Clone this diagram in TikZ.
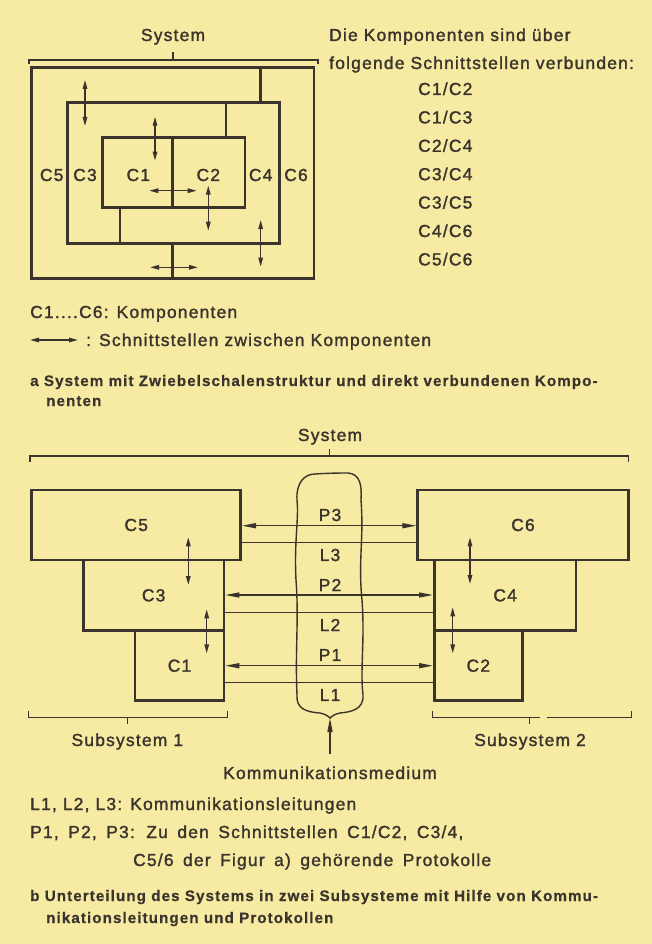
\documentclass[tikz,border=0pt]{standalone}
\usepackage{fontspec}
\setmainfont{Liberation Sans}[LetterSpace=7,UprightFeatures={FakeBold=1.6},BoldFeatures={FakeBold=0.6}]
\usetikzlibrary{arrows.meta,calc}
\definecolor{paper}{RGB}{247,234,162}
\definecolor{ink}{RGB}{58,52,45}
\newcommand{\widesp}{\spaceskip=9.5pt\relax}
\begin{document}
\begin{tikzpicture}[x=1pt,y=-1pt,
  every node/.style={font=\fontsize{17.4}{20}\selectfont,text=ink,inner sep=0pt},
  capt/.style={font=\fontsize{15.2}{18}\selectfont\bfseries,anchor=base west},
  txt/.style={anchor=base west},
  shell/.style={draw=ink,line width=2.8pt},
  comp/.style={draw=ink,line width=2.6pt,rectangle,inner sep=0pt},
  thin/.style={draw=ink,line width=1.4pt},
  brk/.style={draw=ink,line width=1.3pt},
  iarr/.style={draw=ink,line width=1.4pt,{Triangle[length=9pt,width=4.5pt]}-{Triangle[length=9pt,width=4.5pt]}},
  parr/.style={draw=ink,line width=1.4pt,{Triangle[length=14pt,width=5pt]}-{Triangle[length=14pt,width=5pt]}},
  uarr/.style={draw=ink,line width=1.4pt,-{Triangle[length=14pt,width=5pt]}}
]
\fill[paper] (0,0) rectangle (652,944);
\useasboundingbox (0,0) rectangle (652,944);

% ---------------- Figure a ----------------
\node[anchor=base] (sysa) at (173,41) {System};
\coordinate (ba1) at (29,60); \coordinate (ba2) at (318,60);
\draw[brk] ($(ba1)+(0,4)$) -- (ba1) -- (ba2) -- ($(ba2)+(0,4)$);
\draw[brk] (173,60) -- (173,52);

\draw[shell] (31.7,67.3) rectangle (314,278.7);
\draw[shell] (67.3,102.7) rectangle (279.3,243.3);
\draw[shell] (102.3,137.7) rectangle (245,207.7);
\draw[shell] (172.7,137.7) -- (172.7,207.7);
\draw[shell] (260.7,67.3) -- (260.7,102.7);
\draw[shell] (226,102.7) -- (226,137.7);
\draw[shell] (120,207.7) -- (120,243.3);
\draw[shell] (172.7,243.3) -- (172.7,278.7);

\node[anchor=base] (a5) at (51.7,181) {C5};
\node[anchor=base] (a3) at (85,181) {C3};
\node[anchor=base] (a1) at (138.3,181) {C1};
\node[anchor=base] (a2) at (208.3,181) {C2};
\node[anchor=base] (a4) at (260.7,181) {C4};
\node[anchor=base] (a6) at (296,181) {C6};

\coordinate (i53a) at (85,80);     \coordinate (i53b) at (85,126);
\coordinate (i13a) at (155,116.7); \coordinate (i13b) at (155,160.7);
\coordinate (i12a) at (149.3,190.7); \coordinate (i12b) at (196.7,190.7);
\coordinate (i24a) at (208.3,185.7); \coordinate (i24b) at (208.3,230.7);
\coordinate (i46a) at (260.7,220); \coordinate (i46b) at (260.7,266.7);
\coordinate (i56a) at (150,267.3); \coordinate (i56b) at (198,267.3);
\draw[iarr] (i53a) -- (i53b);
\draw[iarr] (i13a) -- (i13b);
\draw[iarr] (i12a) -- (i12b);
\draw[iarr] (i24a) -- (i24b);
\draw[iarr] (i46a) -- (i46b);
\draw[iarr] (i56a) -- (i56b);

\node[txt] (t1) at (329,41) {Die Komponenten sind über};
\node[txt] (t2) at (329,69) {folgende Schnittstellen verbunden:};
\node[txt] (l1) at (418,95) {C1/C2};
\node[txt] (l2) at (418,123.4) {C1/C3};
\node[txt] (l3) at (418,151.8) {C2/C4};
\node[txt] (l4) at (418,180.2) {C3/C4};
\node[txt] (l5) at (418,208.6) {C3/C5};
\node[txt] (l6) at (418,237) {C4/C6};
\node[txt] (l7) at (418,265.4) {C5/C6};

\node[txt] (leg1) at (30,318) {C1....C6: Komponenten};
\coordinate (lga) at (30,340); \coordinate (lgb) at (78,340);
\draw[iarr] (lga) -- (lgb);
\node[txt] (leg2) at (86,346) {: Schnittstellen zwischen Komponenten};
\node[capt] (capa1) at (30,386) {a System mit Zwiebelschalenstruktur und direkt verbundenen Kompo-};
\node[capt] (capa2) at (46,406) {nenten};

% ---------------- Figure b ----------------
\node[anchor=base] (sysb) at (330,441) {System};
\coordinate (bb1) at (30,456); \coordinate (bb2) at (628.3,456);
\draw[brk] ($(bb1)+(0,6)$) -- (bb1) -- (bb2) -- ($(bb2)+(0,6)$);
\draw[brk] (329.3,456) -- (329.3,449);

% communication medium
\draw[ink,line width=1.4pt]
  (297,500) .. controls (296,482) and (305,474) .. (315,474)
  .. controls (330,473) and (342,473) .. (348,473)
  .. controls (360,474) and (362,485) .. (361,500)
  .. controls (364,540) and (358,560) .. (362,600)
  .. controls (365,640) and (360,670) .. (363,695)
  .. controls (364,710) and (350,712) .. (340,713)
  .. controls (335,714) and (332,716) .. (330,718)
  .. controls (328,716) and (325,714) .. (320,713)
  .. controls (305,712) and (296,708) .. (297,695)
  .. controls (295,650) and (299,620) .. (296,580)
  .. controls (294,540) and (299,520) .. (297,500) -- cycle;
\coordinate (medbot) at (330,718);

% components
\node[comp,minimum width=209pt,minimum height=70pt] (c5) at (136.2,525) {C5};
\node[comp,minimum width=140.7pt,minimum height=70.7pt] (c3) at (153.65,595.35) {C3};
\node[comp,minimum width=89pt,minimum height=70pt] (c1) at (179.5,665.7) {C1};
\node[comp,minimum width=210.6pt,minimum height=70pt] (c6) at (523,525) {C6};
\node[comp,minimum width=141.7pt,minimum height=70.7pt] (c4) at (505.15,595.35) {C4};
\node[comp,minimum width=88pt,minimum height=70pt] (c2) at (478.3,665.7) {C2};

\coordinate (yP3) at (0,525.7); \coordinate (yL3) at (0,542.7);
\coordinate (yP2) at (0,595);   \coordinate (yL2) at (0,612.7);
\coordinate (yP1) at (0,665.7); \coordinate (yL1) at (0,682.7);
\draw[parr] (c5.east |- yP3) -- (c6.west |- yP3);
\draw[thin] (c5.east |- yL3) -- (c6.west |- yL3);
\draw[parr] (c3.east |- yP2) -- (c4.west |- yP2);
\draw[thin] (c3.east |- yL2) -- (c4.west |- yL2);
\draw[parr] (c1.east |- yP1) -- (c2.west |- yP1);
\draw[thin] (c1.east |- yL1) -- (c2.west |- yL1);

\node (p3) at (330,515) {P3};
\node (m3) at (330,555) {L3};
\node (p2) at (330,585) {P2};
\node (m2) at (330,625) {L2};
\node (p1) at (330,655) {P1};
\node (m1) at (330,695) {L1};

\coordinate (v53a) at (188.3,537.3); \coordinate (v53b) at (188.3,585);
\coordinate (v31a) at (206.7,609.3); \coordinate (v31b) at (206.7,653.3);
\coordinate (v64a) at (470,537.3);   \coordinate (v64b) at (470,584);
\coordinate (v42a) at (452.7,607.3); \coordinate (v42b) at (452.7,653.3);
\draw[iarr] (v53a) -- (v53b);
\draw[iarr] (v31a) -- (v31b);
\draw[iarr] (v64a) -- (v64b);
\draw[iarr] (v42a) -- (v42b);

% subsystem brackets
\coordinate (s1a) at (28.3,717.7); \coordinate (s1b) at (227.3,717.7);
\draw[brk] ($(s1a)+(0,-6.5)$) -- (s1a) -- (s1b) -- ($(s1b)+(0,-6.5)$);
\draw[brk] (127.3,717.7) -- (127.3,724);
\node[anchor=base] (sub1) at (127.3,746) {Subsystem 1};

\coordinate (s2a) at (432.3,717.7); \coordinate (s2b) at (631.7,717.7);
\draw[brk] ($(s2a)+(0,-6.5)$) -- (s2a) -- (540,717.7);
\draw[brk] (546.7,717.7) -- (s2b) -- ($(s2b)+(0,-6.5)$);
\draw[brk] (529.3,717.7) -- (529.3,724);
\node[anchor=base] (sub2) at (530,746) {Subsystem 2};

\node[anchor=base] (km) at (330,779) {Kommunikationsmedium};
\coordinate (kmtop) at (330,754);
\draw[uarr] (kmtop) -- (medbot);

\node[txt] (lb1) at (30,810) {L1, L2, L3: Kommunikationsleitungen};
\node[txt] (lb2) at (30,838) {\widesp P1, P2, P3: Zu den Schnittstellen C1/C2, C3/4,};
\node[txt] (lb3) at (133,866) {\widesp C5/6 der Figur a) gehörende Protokolle};
\node[capt] (capb1) at (30,901) {b Unterteilung des Systems in zwei Subsysteme mit Hilfe von Kommu-};
\node[capt] (capb2) at (46,923) {nikationsleitungen und Protokollen};
\end{tikzpicture}
\end{document}
